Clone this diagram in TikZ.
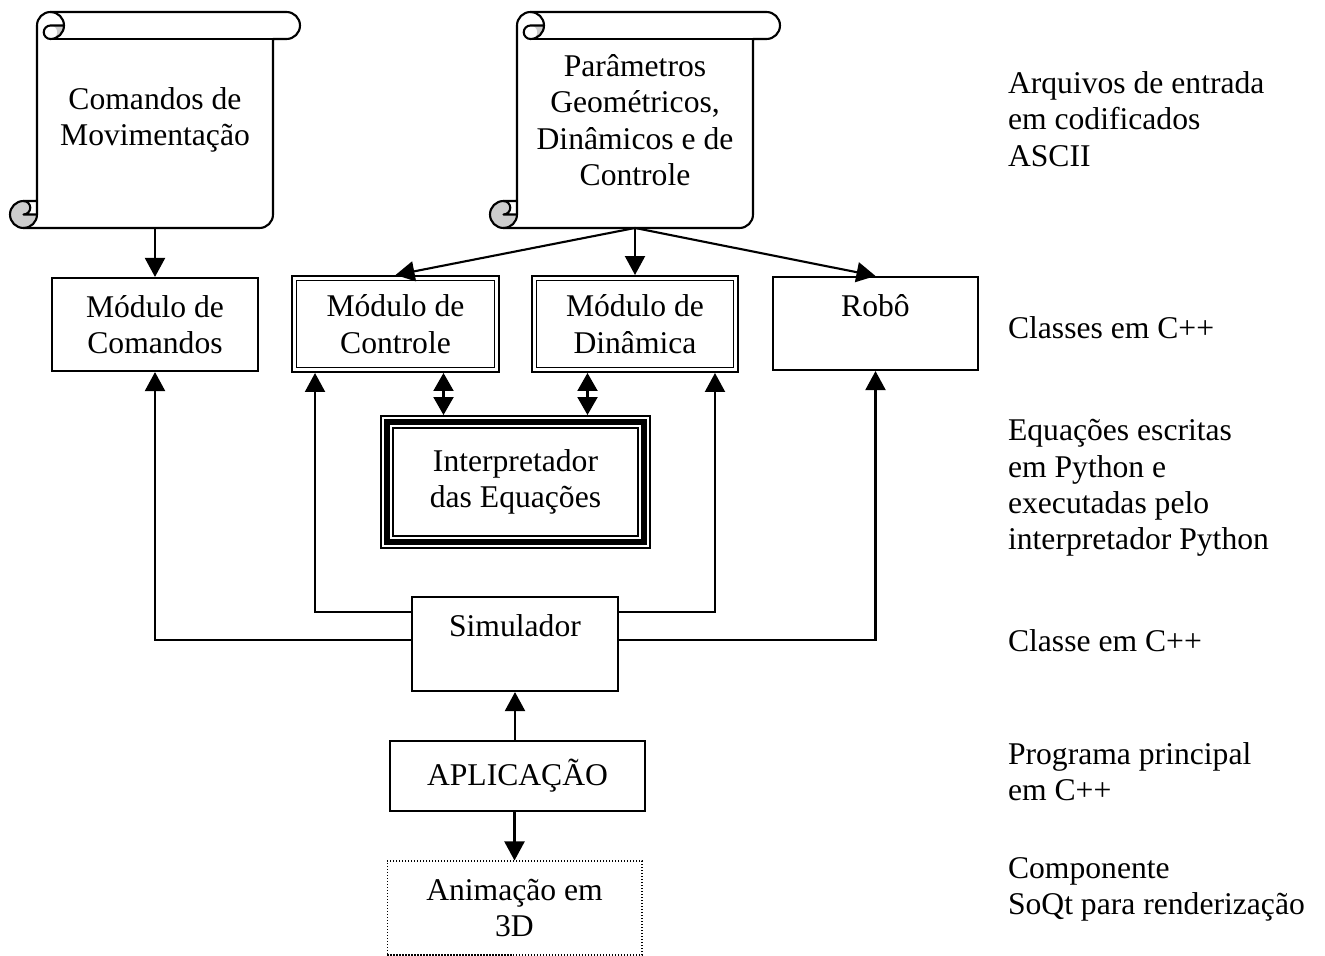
\documentclass[tikz,border=0pt]{standalone}
\usepackage{fontspec}
\setmainfont{Liberation Serif}
\usepackage{tikz}
\usetikzlibrary{arrows.meta,calc}
\usepackage{xcolor}
\definecolor{curlcol}{HTML}{CDCDCD}

\begin{document}
\begin{tikzpicture}[x=0.02cm,y=-0.02cm,
          font=\fontsize{18}{20.7}\selectfont,
          line width=1.2pt,
          box/.style={draw,align=center,inner sep=0pt,minimum width=4.12cm,minimum height=1.86cm},
          dblbox/.style={box,double,line width=0.03cm,double distance=0.06cm,outer sep=0.06cm},
          tribox/.style={draw,align=center,inner sep=0pt,line width=0.12cm,outer sep=0.14cm,
            preaction={draw,double,line width=0.04cm,double distance=0.2cm}},
          dotbox/.style={draw,align=center,inner sep=0pt,line width=0.6pt,
            dash pattern=on 0.03cm off 0.03cm,minimum width=5.1cm,minimum height=1.88cm},
          scrolltxt/.style={align=center,inner sep=0pt,outer sep=0pt,minimum width=5.8cm,minimum height=4.32cm},
          note/.style={anchor=north west,align=left,inner sep=0pt},
          arr/.style={-{Triangle[length=0.38cm,width=0.4cm]}},
          biarr/.style={{Triangle[length=0.36cm,width=0.4cm]}-{Triangle[length=0.36cm,width=0.4cm]}},
          pics/scroll/.style={code={
            \begin{scope}[line join=round]
            \fill[curlcol] (54,13.5) arc[start angle=0,end angle=90,radius=13.5]
              arc[start angle=90,end angle=-90,radius=6.75] -- cycle;
            \fill[curlcol] (27,202.5) arc[start angle=0,end angle=270,radius=13.5]
              arc[start angle=270,end angle=450,radius=6.75] -- cycle;
            \draw (27,189) -- (27,13.5) arc[start angle=180,end angle=270,radius=13.5]
              -- (276.5,0) arc[start angle=270,end angle=450,radius=13.5]
              -- (263,27) -- (263,202.5) arc[start angle=0,end angle=90,radius=13.5]
              -- (13.5,216) arc[start angle=90,end angle=270,radius=13.5] -- cycle;
            \draw (40.5,0) arc[start angle=270,end angle=450,radius=13.5]
              arc[start angle=90,end angle=270,radius=6.75] -- (54,13.5);
            \draw (263,27) -- (40.5,27);
            \draw (13.5,189) arc[start angle=270,end angle=450,radius=6.75] -- (27,202.5);
            \draw (13.5,216) arc[start angle=90,end angle=0,radius=13.5] -- (27,189);
            \end{scope}
          }}
        ]
        \useasboundingbox (0,0) rectangle (1325,956);

        \pic at (10,12) {scroll};
        \pic at (490,12) {scroll};
        \node[scrolltxt] (moves) at (155,120) {Comandos de\\Movimentação};
        \node[scrolltxt] (params) at (635,120) {Parâmetros\\Geométricos,\\Dinâmicos e de\\Controle};

        \node[box] (cmds) at (155,324.5) {Módulo de\\Comandos};
        \node[dblbox,minimum width=4.06cm,minimum height=1.84cm] (ctrl) at (395.5,324) {Módulo de\\Controle};
        \node[dblbox,minimum width=4.04cm,minimum height=1.84cm] (dyn) at (635,324) {Módulo de\\Dinâmica};
        \node[box,minimum width=4.1cm] (robo) at (875.5,323.5) {Robô\\\mbox{}};
        \node[tribox,minimum width=5.14cm,minimum height=2.4cm] (interp) at (515.5,482) {Interpretador\\das Equações};
        \node[box,minimum height=1.88cm] (sim) at (515,644) {Simulador\\\mbox{}};
        \node[box,minimum width=5.1cm,minimum height=1.4cm] (app) at (517.5,776) {APLICAÇÃO};
        \node[dotbox] (anim) at (514.5,908) {Animação em\\3D};

        \draw[arr] (moves.south) -- (cmds.north);
        \draw[arr] (params.south) -- (ctrl.north);
        \draw[arr] (params.south) -- (dyn.north);
        \draw[arr] (params.south) -- (robo.north);

        \coordinate (eqL) at ($(interp.north)+(-72,0)$);
        \coordinate (eqR) at ($(interp.north)+(72,0)$);
        \draw[biarr] (eqL |- ctrl.south) -- (eqL);
        \draw[biarr] (eqR |- dyn.south) -- (eqR);

        \draw[arr] ([yshift=0.08cm]sim.west) -| (cmds.south);
        \draw[arr] ([yshift=0.64cm]sim.west) -| ([xshift=-1.61cm]ctrl.south);
        \draw[arr] ([yshift=0.64cm]sim.east) -| ([xshift=1.6cm]dyn.south);
        \draw[arr] ([yshift=0.08cm]sim.east) -| (robo.south);
        \draw[arr] (app.north -| sim.south) -- (sim.south);
        \draw[arr] (app.south -| anim.north) -- (anim.north);

        \node[note] (inputs) at (1007,70.4) {Arquivos de entrada\\em codificados\\ASCII};
        \node[note] (classes) at (1007,315.4) {Classes em C++};
        \node[note] (pyeqs) at (1007,418.4) {Equações escritas\\em Python e\\executadas pelo\\interpretador Python};
        \node[note] (simcls) at (1007,628.4) {Classe em C++};
        \node[note] (mainprog) at (1007,741.4) {Programa principal\\em C++};
        \node[note] (soqt) at (1007,856.4) {Componente\\SoQt para renderização};
      \end{tikzpicture}
\end{document}
